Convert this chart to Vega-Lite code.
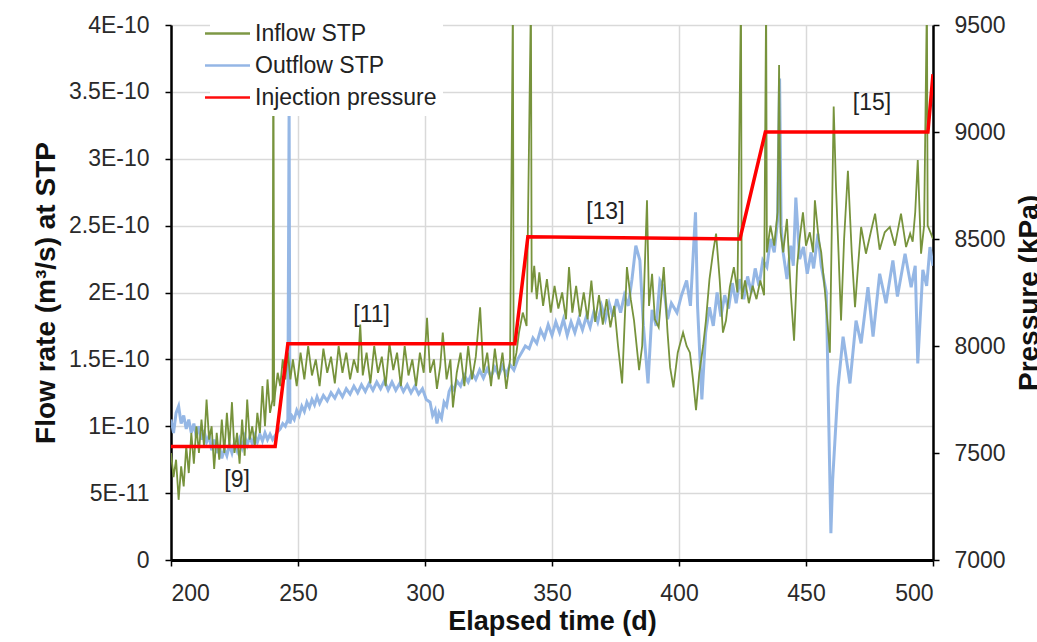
{
  "$schema": "https://vega.github.io/schema/vega-lite/v6.json",
  "width": 762,
  "height": 535,
  "autosize": {"type": "none"},
  "padding": {"left": 171, "top": 25, "right": 104, "bottom": 82},
  "background": "white",
  "config": {
    "view": {"stroke": null},
    "font": "Liberation Sans",
    "axis": {
      "domainColor": "#000",
      "domainWidth": 2.5,
      "tickColor": "#000",
      "tickWidth": 1.5,
      "tickSize": 6,
      "labelFont": "Liberation Sans",
      "labelFontSize": 23,
      "labelColor": "#2a2a2a",
      "titleFont": "Liberation Sans",
      "titleFontSize": 28,
      "titleFontWeight": "bold",
      "titleColor": "#111",
      "gridColor": "#d9d9d9",
      "gridWidth": 1.5
    }
  },
  "datasets": {
    "inflow": [
      {"t":200,"v":0.80e-10,"series":"Inflow STP"},{"t":201,"v":0.62e-10,"series":"Inflow STP"},{"t":202,"v":0.75e-10,"series":"Inflow STP"},{"t":203,"v":0.45e-10,"series":"Inflow STP"},{"t":204,"v":0.70e-10,"series":"Inflow STP"},{"t":205,"v":0.55e-10,"series":"Inflow STP"},{"t":206,"v":0.85e-10,"series":"Inflow STP"},{"t":207,"v":0.65e-10,"series":"Inflow STP"},{"t":208,"v":0.95e-10,"series":"Inflow STP"},{"t":209,"v":0.72e-10,"series":"Inflow STP"},
      {"t":210,"v":1.00e-10,"series":"Inflow STP"},{"t":211,"v":0.80e-10,"series":"Inflow STP"},{"t":212,"v":1.05e-10,"series":"Inflow STP"},{"t":213,"v":0.85e-10,"series":"Inflow STP"},{"t":214,"v":1.20e-10,"series":"Inflow STP"},{"t":215,"v":0.90e-10,"series":"Inflow STP"},{"t":216,"v":1.00e-10,"series":"Inflow STP"},{"t":217,"v":0.68e-10,"series":"Inflow STP"},{"t":218,"v":0.95e-10,"series":"Inflow STP"},{"t":219,"v":0.75e-10,"series":"Inflow STP"},
      {"t":220,"v":1.05e-10,"series":"Inflow STP"},{"t":221,"v":0.80e-10,"series":"Inflow STP"},{"t":222,"v":1.10e-10,"series":"Inflow STP"},{"t":223,"v":0.85e-10,"series":"Inflow STP"},{"t":224,"v":1.18e-10,"series":"Inflow STP"},{"t":225,"v":0.80e-10,"series":"Inflow STP"},{"t":226,"v":0.95e-10,"series":"Inflow STP"},{"t":227,"v":0.72e-10,"series":"Inflow STP"},{"t":228,"v":1.05e-10,"series":"Inflow STP"},{"t":229,"v":0.78e-10,"series":"Inflow STP"},
      {"t":230,"v":1.20e-10,"series":"Inflow STP"},{"t":231,"v":0.90e-10,"series":"Inflow STP"},{"t":232,"v":1.00e-10,"series":"Inflow STP"},{"t":233,"v":0.85e-10,"series":"Inflow STP"},{"t":234,"v":1.10e-10,"series":"Inflow STP"},{"t":235,"v":0.95e-10,"series":"Inflow STP"},{"t":236,"v":1.30e-10,"series":"Inflow STP"},{"t":237,"v":1.00e-10,"series":"Inflow STP"},{"t":238,"v":1.35e-10,"series":"Inflow STP"},{"t":239,"v":1.10e-10,"series":"Inflow STP"},
      {"t":240,"v":1.20e-10,"series":"Inflow STP"},{"t":240.3,"v":4.2e-10,"series":"Inflow STP"},{"t":240.6,"v":1.15e-10,"series":"Inflow STP"},{"t":241,"v":1.25e-10,"series":"Inflow STP"},{"t":242,"v":1.40e-10,"series":"Inflow STP"},{"t":243,"v":1.30e-10,"series":"Inflow STP"},{"t":244,"v":1.50e-10,"series":"Inflow STP"},{"t":245,"v":1.35e-10,"series":"Inflow STP"},{"t":246,"v":1.55e-10,"series":"Inflow STP"},{"t":247,"v":1.35e-10,"series":"Inflow STP"},
      {"t":248,"v":1.50e-10,"series":"Inflow STP"},{"t":249.5,"v":1.30e-10,"series":"Inflow STP"},{"t":251,"v":1.55e-10,"series":"Inflow STP"},{"t":252.5,"v":1.35e-10,"series":"Inflow STP"},{"t":254,"v":1.60e-10,"series":"Inflow STP"},{"t":255.5,"v":1.38e-10,"series":"Inflow STP"},{"t":257,"v":1.50e-10,"series":"Inflow STP"},{"t":258.5,"v":1.30e-10,"series":"Inflow STP"},{"t":260,"v":1.58e-10,"series":"Inflow STP"},{"t":261.5,"v":1.40e-10,"series":"Inflow STP"},
      {"t":263,"v":1.52e-10,"series":"Inflow STP"},{"t":264.5,"v":1.32e-10,"series":"Inflow STP"},{"t":266,"v":1.60e-10,"series":"Inflow STP"},{"t":267.5,"v":1.40e-10,"series":"Inflow STP"},{"t":269,"v":1.55e-10,"series":"Inflow STP"},{"t":270.5,"v":1.35e-10,"series":"Inflow STP"},{"t":272,"v":1.50e-10,"series":"Inflow STP"},{"t":273.5,"v":1.40e-10,"series":"Inflow STP"},{"t":274.5,"v":1.76e-10,"series":"Inflow STP"},{"t":275.5,"v":1.38e-10,"series":"Inflow STP"},
      {"t":277,"v":1.55e-10,"series":"Inflow STP"},{"t":278.5,"v":1.32e-10,"series":"Inflow STP"},{"t":280,"v":1.60e-10,"series":"Inflow STP"},{"t":281.5,"v":1.40e-10,"series":"Inflow STP"},{"t":283,"v":1.52e-10,"series":"Inflow STP"},{"t":284.5,"v":1.30e-10,"series":"Inflow STP"},{"t":286,"v":1.62e-10,"series":"Inflow STP"},{"t":287.5,"v":1.42e-10,"series":"Inflow STP"},{"t":289,"v":1.55e-10,"series":"Inflow STP"},{"t":290.5,"v":1.30e-10,"series":"Inflow STP"},
      {"t":292,"v":1.60e-10,"series":"Inflow STP"},{"t":293.5,"v":1.38e-10,"series":"Inflow STP"},{"t":295,"v":1.50e-10,"series":"Inflow STP"},{"t":296.5,"v":1.30e-10,"series":"Inflow STP"},{"t":298,"v":1.55e-10,"series":"Inflow STP"},{"t":299.5,"v":1.40e-10,"series":"Inflow STP"},{"t":300.8,"v":1.81e-10,"series":"Inflow STP"},{"t":302,"v":1.40e-10,"series":"Inflow STP"},{"t":303.5,"v":1.50e-10,"series":"Inflow STP"},{"t":304.7,"v":1.28e-10,"series":"Inflow STP"},
      {"t":306,"v":1.45e-10,"series":"Inflow STP"},{"t":307,"v":1.70e-10,"series":"Inflow STP"},{"t":308.5,"v":1.35e-10,"series":"Inflow STP"},{"t":310,"v":1.50e-10,"series":"Inflow STP"},{"t":311,"v":1.14e-10,"series":"Inflow STP"},{"t":312.5,"v":1.40e-10,"series":"Inflow STP"},{"t":314,"v":1.55e-10,"series":"Inflow STP"},{"t":315.5,"v":1.30e-10,"series":"Inflow STP"},{"t":317,"v":1.60e-10,"series":"Inflow STP"},{"t":318.5,"v":1.35e-10,"series":"Inflow STP"},
      {"t":320,"v":1.52e-10,"series":"Inflow STP"},{"t":321.7,"v":1.89e-10,"series":"Inflow STP"},{"t":323,"v":1.40e-10,"series":"Inflow STP"},{"t":324.5,"v":1.55e-10,"series":"Inflow STP"},{"t":326,"v":1.30e-10,"series":"Inflow STP"},{"t":327.5,"v":1.58e-10,"series":"Inflow STP"},{"t":329,"v":1.35e-10,"series":"Inflow STP"},{"t":330.5,"v":1.55e-10,"series":"Inflow STP"},{"t":332,"v":1.28e-10,"series":"Inflow STP"},{"t":333.5,"v":1.50e-10,"series":"Inflow STP"},
      {"t":334.6,"v":4.2e-10,"series":"Inflow STP"},{"t":334.9,"v":1.45e-10,"series":"Inflow STP"},{"t":336,"v":1.55e-10,"series":"Inflow STP"},{"t":337,"v":1.70e-10,"series":"Inflow STP"},{"t":338.5,"v":1.85e-10,"series":"Inflow STP"},{"t":340,"v":1.75e-10,"series":"Inflow STP"},{"t":341.7,"v":4.2e-10,"series":"Inflow STP"},{"t":342,"v":2.00e-10,"series":"Inflow STP"},{"t":343,"v":2.20e-10,"series":"Inflow STP"},{"t":344,"v":1.95e-10,"series":"Inflow STP"},
      {"t":345,"v":2.15e-10,"series":"Inflow STP"},{"t":346.5,"v":1.90e-10,"series":"Inflow STP"},{"t":348,"v":2.10e-10,"series":"Inflow STP"},{"t":349.5,"v":1.85e-10,"series":"Inflow STP"},{"t":351,"v":2.05e-10,"series":"Inflow STP"},{"t":352.5,"v":1.88e-10,"series":"Inflow STP"},{"t":354,"v":2.00e-10,"series":"Inflow STP"},{"t":355.5,"v":1.80e-10,"series":"Inflow STP"},{"t":356.7,"v":2.19e-10,"series":"Inflow STP"},{"t":358,"v":1.85e-10,"series":"Inflow STP"},
      {"t":359.5,"v":2.05e-10,"series":"Inflow STP"},{"t":361,"v":1.82e-10,"series":"Inflow STP"},{"t":362.5,"v":2.00e-10,"series":"Inflow STP"},{"t":364,"v":1.80e-10,"series":"Inflow STP"},{"t":365.5,"v":2.09e-10,"series":"Inflow STP"},{"t":367,"v":1.78e-10,"series":"Inflow STP"},{"t":368.5,"v":1.98e-10,"series":"Inflow STP"},{"t":370,"v":1.76e-10,"series":"Inflow STP"},{"t":371.5,"v":1.95e-10,"series":"Inflow STP"},{"t":373,"v":1.74e-10,"series":"Inflow STP"},
      {"t":374.5,"v":1.90e-10,"series":"Inflow STP"},{"t":376,"v":1.60e-10,"series":"Inflow STP"},{"t":377.6,"v":1.32e-10,"series":"Inflow STP"},{"t":379.5,"v":2.19e-10,"series":"Inflow STP"},{"t":381,"v":1.95e-10,"series":"Inflow STP"},{"t":382.3,"v":1.79e-10,"series":"Inflow STP"},{"t":384.3,"v":1.42e-10,"series":"Inflow STP"},{"t":385.5,"v":1.60e-10,"series":"Inflow STP"},{"t":387.4,"v":2.69e-10,"series":"Inflow STP"},{"t":388.2,"v":1.90e-10,"series":"Inflow STP"},
      {"t":389.4,"v":2.14e-10,"series":"Inflow STP"},{"t":390.5,"v":1.80e-10,"series":"Inflow STP"},{"t":392,"v":1.74e-10,"series":"Inflow STP"},{"t":394,"v":2.19e-10,"series":"Inflow STP"},{"t":395.5,"v":1.70e-10,"series":"Inflow STP"},{"t":396.5,"v":1.44e-10,"series":"Inflow STP"},{"t":397.8,"v":1.29e-10,"series":"Inflow STP"},{"t":399.5,"v":1.55e-10,"series":"Inflow STP"},{"t":401.6,"v":1.70e-10,"series":"Inflow STP"},{"t":403,"v":1.60e-10,"series":"Inflow STP"},
      {"t":404.3,"v":1.55e-10,"series":"Inflow STP"},{"t":405.5,"v":1.35e-10,"series":"Inflow STP"},{"t":406.7,"v":1.12e-10,"series":"Inflow STP"},{"t":408,"v":1.40e-10,"series":"Inflow STP"},{"t":409.5,"v":1.60e-10,"series":"Inflow STP"},{"t":410.6,"v":1.79e-10,"series":"Inflow STP"},{"t":412,"v":2.10e-10,"series":"Inflow STP"},{"t":413.4,"v":2.30e-10,"series":"Inflow STP"},{"t":414.6,"v":2.44e-10,"series":"Inflow STP"},{"t":416,"v":2.10e-10,"series":"Inflow STP"},
      {"t":417.3,"v":1.70e-10,"series":"Inflow STP"},{"t":418.5,"v":1.79e-10,"series":"Inflow STP"},{"t":420,"v":2.04e-10,"series":"Inflow STP"},{"t":421.6,"v":2.19e-10,"series":"Inflow STP"},{"t":423,"v":2.00e-10,"series":"Inflow STP"},{"t":424.4,"v":4.2e-10,"series":"Inflow STP"},{"t":424.7,"v":1.95e-10,"series":"Inflow STP"},{"t":426,"v":2.09e-10,"series":"Inflow STP"},{"t":427.5,"v":1.92e-10,"series":"Inflow STP"},{"t":429,"v":2.05e-10,"series":"Inflow STP"},
      {"t":430.5,"v":1.95e-10,"series":"Inflow STP"},{"t":432,"v":2.09e-10,"series":"Inflow STP"},{"t":433.5,"v":1.98e-10,"series":"Inflow STP"},{"t":434.3,"v":4.2e-10,"series":"Inflow STP"},{"t":434.6,"v":2.30e-10,"series":"Inflow STP"},{"t":436,"v":2.50e-10,"series":"Inflow STP"},{"t":437.5,"v":2.35e-10,"series":"Inflow STP"},{"t":438.8,"v":2.60e-10,"series":"Inflow STP"},{"t":439.4,"v":3.70e-10,"series":"Inflow STP"},{"t":440,"v":2.45e-10,"series":"Inflow STP"},
      {"t":441,"v":2.30e-10,"series":"Inflow STP"},{"t":442.5,"v":2.55e-10,"series":"Inflow STP"},{"t":444,"v":2.00e-10,"series":"Inflow STP"},{"t":445.3,"v":1.64e-10,"series":"Inflow STP"},{"t":446.5,"v":2.20e-10,"series":"Inflow STP"},{"t":447.5,"v":2.40e-10,"series":"Inflow STP"},{"t":448.8,"v":2.60e-10,"series":"Inflow STP"},{"t":450,"v":2.35e-10,"series":"Inflow STP"},{"t":451.5,"v":2.45e-10,"series":"Inflow STP"},{"t":452.8,"v":2.30e-10,"series":"Inflow STP"},
      {"t":453.5,"v":2.69e-10,"series":"Inflow STP"},{"t":455,"v":2.40e-10,"series":"Inflow STP"},{"t":456,"v":2.30e-10,"series":"Inflow STP"},{"t":457.5,"v":2.00e-10,"series":"Inflow STP"},{"t":459.4,"v":1.55e-10,"series":"Inflow STP"},{"t":460.9,"v":3.39e-10,"series":"Inflow STP"},{"t":461.8,"v":2.79e-10,"series":"Inflow STP"},{"t":462.8,"v":2.30e-10,"series":"Inflow STP"},{"t":463.8,"v":1.79e-10,"series":"Inflow STP"},{"t":465,"v":2.40e-10,"series":"Inflow STP"},
      {"t":466.5,"v":2.91e-10,"series":"Inflow STP"},{"t":468,"v":2.30e-10,"series":"Inflow STP"},{"t":469.3,"v":1.89e-10,"series":"Inflow STP"},{"t":470.5,"v":2.20e-10,"series":"Inflow STP"},{"t":471.7,"v":2.49e-10,"series":"Inflow STP"},{"t":473.6,"v":2.29e-10,"series":"Inflow STP"},{"t":475.5,"v":2.45e-10,"series":"Inflow STP"},{"t":477.2,"v":2.59e-10,"series":"Inflow STP"},{"t":479,"v":2.32e-10,"series":"Inflow STP"},{"t":481,"v":2.45e-10,"series":"Inflow STP"},
      {"t":483,"v":2.49e-10,"series":"Inflow STP"},{"t":485,"v":2.35e-10,"series":"Inflow STP"},{"t":487.4,"v":2.59e-10,"series":"Inflow STP"},{"t":489.4,"v":2.34e-10,"series":"Inflow STP"},{"t":491,"v":2.44e-10,"series":"Inflow STP"},{"t":492,"v":2.38e-10,"series":"Inflow STP"},{"t":493,"v":2.60e-10,"series":"Inflow STP"},{"t":494,"v":2.99e-10,"series":"Inflow STP"},{"t":495.3,"v":2.29e-10,"series":"Inflow STP"},{"t":496.5,"v":2.50e-10,"series":"Inflow STP"},
      {"t":497.6,"v":4.2e-10,"series":"Inflow STP"},{"t":497.9,"v":2.50e-10,"series":"Inflow STP"},{"t":499.2,"v":2.44e-10,"series":"Inflow STP"},{"t":500,"v":2.40e-10,"series":"Inflow STP"}
    ],
    "outflow": [
      {"t":200,"v":1.05e-10,"series":"Outflow STP"},{"t":201,"v":0.95e-10,"series":"Outflow STP"},{"t":202,"v":1.10e-10,"series":"Outflow STP"},{"t":203,"v":1.15e-10,"series":"Outflow STP"},{"t":204,"v":1.02e-10,"series":"Outflow STP"},{"t":205,"v":1.08e-10,"series":"Outflow STP"},{"t":206,"v":0.98e-10,"series":"Outflow STP"},{"t":207,"v":1.05e-10,"series":"Outflow STP"},{"t":208,"v":0.95e-10,"series":"Outflow STP"},{"t":209,"v":1.02e-10,"series":"Outflow STP"},
      {"t":210,"v":0.92e-10,"series":"Outflow STP"},{"t":211,"v":1.00e-10,"series":"Outflow STP"},{"t":212,"v":0.90e-10,"series":"Outflow STP"},{"t":213,"v":0.97e-10,"series":"Outflow STP"},{"t":214,"v":0.88e-10,"series":"Outflow STP"},{"t":215,"v":0.93e-10,"series":"Outflow STP"},{"t":216,"v":0.82e-10,"series":"Outflow STP"},{"t":217,"v":0.90e-10,"series":"Outflow STP"},{"t":218,"v":0.80e-10,"series":"Outflow STP"},{"t":219,"v":0.86e-10,"series":"Outflow STP"},
      {"t":220,"v":0.76e-10,"series":"Outflow STP"},{"t":221,"v":0.83e-10,"series":"Outflow STP"},{"t":222,"v":0.78e-10,"series":"Outflow STP"},{"t":223,"v":0.86e-10,"series":"Outflow STP"},{"t":224,"v":0.80e-10,"series":"Outflow STP"},{"t":225,"v":0.88e-10,"series":"Outflow STP"},{"t":226,"v":0.82e-10,"series":"Outflow STP"},{"t":227,"v":0.90e-10,"series":"Outflow STP"},{"t":228,"v":0.84e-10,"series":"Outflow STP"},{"t":229,"v":0.92e-10,"series":"Outflow STP"},
      {"t":230,"v":0.86e-10,"series":"Outflow STP"},{"t":231,"v":0.92e-10,"series":"Outflow STP"},{"t":232,"v":0.87e-10,"series":"Outflow STP"},{"t":233,"v":0.93e-10,"series":"Outflow STP"},{"t":234,"v":0.88e-10,"series":"Outflow STP"},{"t":235,"v":0.94e-10,"series":"Outflow STP"},{"t":236,"v":0.89e-10,"series":"Outflow STP"},{"t":237,"v":0.95e-10,"series":"Outflow STP"},{"t":238,"v":0.90e-10,"series":"Outflow STP"},{"t":239,"v":0.94e-10,"series":"Outflow STP"},
      {"t":240,"v":0.90e-10,"series":"Outflow STP"},{"t":241,"v":0.93e-10,"series":"Outflow STP"},{"t":242,"v":0.96e-10,"series":"Outflow STP"},{"t":243,"v":0.98e-10,"series":"Outflow STP"},{"t":244,"v":1.02e-10,"series":"Outflow STP"},{"t":245,"v":1.00e-10,"series":"Outflow STP"},{"t":246,"v":1.05e-10,"series":"Outflow STP"},{"t":246.5,"v":3.40e-10,"series":"Outflow STP"},{"t":246.8,"v":1.02e-10,"series":"Outflow STP"},{"t":247.5,"v":1.08e-10,"series":"Outflow STP"},
      {"t":248.5,"v":1.05e-10,"series":"Outflow STP"},{"t":249.5,"v":1.12e-10,"series":"Outflow STP"},{"t":250.5,"v":1.08e-10,"series":"Outflow STP"},{"t":251.5,"v":1.15e-10,"series":"Outflow STP"},{"t":252.5,"v":1.11e-10,"series":"Outflow STP"},{"t":253.5,"v":1.18e-10,"series":"Outflow STP"},{"t":254.5,"v":1.14e-10,"series":"Outflow STP"},{"t":255.5,"v":1.20e-10,"series":"Outflow STP"},{"t":256.5,"v":1.16e-10,"series":"Outflow STP"},{"t":257.5,"v":1.22e-10,"series":"Outflow STP"},
      {"t":258.5,"v":1.17e-10,"series":"Outflow STP"},{"t":260,"v":1.23e-10,"series":"Outflow STP"},{"t":261.5,"v":1.19e-10,"series":"Outflow STP"},{"t":263,"v":1.25e-10,"series":"Outflow STP"},{"t":264.5,"v":1.21e-10,"series":"Outflow STP"},{"t":266,"v":1.27e-10,"series":"Outflow STP"},{"t":267.5,"v":1.22e-10,"series":"Outflow STP"},{"t":269,"v":1.28e-10,"series":"Outflow STP"},{"t":270.5,"v":1.24e-10,"series":"Outflow STP"},{"t":272,"v":1.30e-10,"series":"Outflow STP"},
      {"t":273.5,"v":1.25e-10,"series":"Outflow STP"},{"t":275,"v":1.31e-10,"series":"Outflow STP"},{"t":276.5,"v":1.26e-10,"series":"Outflow STP"},{"t":278,"v":1.32e-10,"series":"Outflow STP"},{"t":279.5,"v":1.27e-10,"series":"Outflow STP"},{"t":281,"v":1.33e-10,"series":"Outflow STP"},{"t":282.5,"v":1.28e-10,"series":"Outflow STP"},{"t":284,"v":1.34e-10,"series":"Outflow STP"},{"t":285.5,"v":1.27e-10,"series":"Outflow STP"},{"t":287,"v":1.33e-10,"series":"Outflow STP"},
      {"t":288.5,"v":1.27e-10,"series":"Outflow STP"},{"t":290,"v":1.32e-10,"series":"Outflow STP"},{"t":291.5,"v":1.26e-10,"series":"Outflow STP"},{"t":293,"v":1.31e-10,"series":"Outflow STP"},{"t":294.5,"v":1.25e-10,"series":"Outflow STP"},{"t":296,"v":1.30e-10,"series":"Outflow STP"},{"t":297.5,"v":1.24e-10,"series":"Outflow STP"},{"t":299,"v":1.28e-10,"series":"Outflow STP"},{"t":300.5,"v":1.20e-10,"series":"Outflow STP"},{"t":302,"v":1.18e-10,"series":"Outflow STP"},
      {"t":303,"v":1.08e-10,"series":"Outflow STP"},{"t":304,"v":1.12e-10,"series":"Outflow STP"},{"t":304.7,"v":1.02e-10,"series":"Outflow STP"},{"t":305.5,"v":1.10e-10,"series":"Outflow STP"},{"t":306.5,"v":1.06e-10,"series":"Outflow STP"},{"t":307.5,"v":1.18e-10,"series":"Outflow STP"},{"t":308.5,"v":1.15e-10,"series":"Outflow STP"},{"t":309.5,"v":1.26e-10,"series":"Outflow STP"},{"t":310.5,"v":1.30e-10,"series":"Outflow STP"},{"t":311.5,"v":1.27e-10,"series":"Outflow STP"},
      {"t":312.5,"v":1.34e-10,"series":"Outflow STP"},{"t":314,"v":1.30e-10,"series":"Outflow STP"},{"t":315.5,"v":1.38e-10,"series":"Outflow STP"},{"t":317,"v":1.33e-10,"series":"Outflow STP"},{"t":318.5,"v":1.40e-10,"series":"Outflow STP"},{"t":320,"v":1.35e-10,"series":"Outflow STP"},{"t":321.5,"v":1.42e-10,"series":"Outflow STP"},{"t":323,"v":1.36e-10,"series":"Outflow STP"},{"t":324.5,"v":1.43e-10,"series":"Outflow STP"},{"t":326,"v":1.37e-10,"series":"Outflow STP"},
      {"t":327.5,"v":1.44e-10,"series":"Outflow STP"},{"t":329,"v":1.38e-10,"series":"Outflow STP"},{"t":330.5,"v":1.45e-10,"series":"Outflow STP"},{"t":332,"v":1.39e-10,"series":"Outflow STP"},{"t":333.5,"v":1.46e-10,"series":"Outflow STP"},{"t":335,"v":1.42e-10,"series":"Outflow STP"},{"t":336.5,"v":1.50e-10,"series":"Outflow STP"},{"t":338,"v":1.55e-10,"series":"Outflow STP"},{"t":339.5,"v":1.60e-10,"series":"Outflow STP"},{"t":341,"v":1.58e-10,"series":"Outflow STP"},
      {"t":342.5,"v":1.66e-10,"series":"Outflow STP"},{"t":344,"v":1.62e-10,"series":"Outflow STP"},{"t":345.5,"v":1.72e-10,"series":"Outflow STP"},{"t":347,"v":1.66e-10,"series":"Outflow STP"},{"t":348.5,"v":1.76e-10,"series":"Outflow STP"},{"t":350,"v":1.68e-10,"series":"Outflow STP"},{"t":351.5,"v":1.78e-10,"series":"Outflow STP"},{"t":353,"v":1.70e-10,"series":"Outflow STP"},{"t":354.5,"v":1.80e-10,"series":"Outflow STP"},{"t":356,"v":1.68e-10,"series":"Outflow STP"},
      {"t":357.5,"v":1.78e-10,"series":"Outflow STP"},{"t":359,"v":1.70e-10,"series":"Outflow STP"},{"t":360.5,"v":1.80e-10,"series":"Outflow STP"},{"t":362,"v":1.72e-10,"series":"Outflow STP"},{"t":363.5,"v":1.82e-10,"series":"Outflow STP"},{"t":365,"v":1.74e-10,"series":"Outflow STP"},{"t":366.5,"v":1.86e-10,"series":"Outflow STP"},{"t":368,"v":1.78e-10,"series":"Outflow STP"},{"t":369.5,"v":1.90e-10,"series":"Outflow STP"},{"t":371,"v":1.80e-10,"series":"Outflow STP"},
      {"t":372.5,"v":1.92e-10,"series":"Outflow STP"},{"t":374,"v":1.82e-10,"series":"Outflow STP"},{"t":375.5,"v":1.95e-10,"series":"Outflow STP"},{"t":377,"v":1.85e-10,"series":"Outflow STP"},{"t":378.5,"v":1.98e-10,"series":"Outflow STP"},{"t":380,"v":1.90e-10,"series":"Outflow STP"},{"t":381.5,"v":2.10e-10,"series":"Outflow STP"},{"t":383,"v":2.35e-10,"series":"Outflow STP"},{"t":384.6,"v":2.24e-10,"series":"Outflow STP"},{"t":386,"v":1.75e-10,"series":"Outflow STP"},
      {"t":387.8,"v":1.32e-10,"series":"Outflow STP"},{"t":389.4,"v":1.87e-10,"series":"Outflow STP"},{"t":391,"v":1.75e-10,"series":"Outflow STP"},{"t":392.5,"v":2.09e-10,"series":"Outflow STP"},{"t":394,"v":2.04e-10,"series":"Outflow STP"},{"t":395.5,"v":1.80e-10,"series":"Outflow STP"},{"t":397,"v":1.92e-10,"series":"Outflow STP"},{"t":399.2,"v":1.85e-10,"series":"Outflow STP"},{"t":401,"v":1.98e-10,"series":"Outflow STP"},{"t":403,"v":2.09e-10,"series":"Outflow STP"},
      {"t":404.5,"v":1.90e-10,"series":"Outflow STP"},{"t":406.5,"v":2.60e-10,"series":"Outflow STP"},{"t":407.3,"v":1.90e-10,"series":"Outflow STP"},{"t":409,"v":1.20e-10,"series":"Outflow STP"},{"t":410.5,"v":1.70e-10,"series":"Outflow STP"},{"t":412,"v":1.89e-10,"series":"Outflow STP"},{"t":413.5,"v":1.75e-10,"series":"Outflow STP"},{"t":415,"v":2.00e-10,"series":"Outflow STP"},{"t":416.5,"v":1.82e-10,"series":"Outflow STP"},{"t":418,"v":1.98e-10,"series":"Outflow STP"},
      {"t":419.5,"v":1.88e-10,"series":"Outflow STP"},{"t":421,"v":2.07e-10,"series":"Outflow STP"},{"t":422.5,"v":1.92e-10,"series":"Outflow STP"},{"t":424,"v":2.10e-10,"series":"Outflow STP"},{"t":425.5,"v":1.95e-10,"series":"Outflow STP"},{"t":427,"v":2.12e-10,"series":"Outflow STP"},{"t":428.5,"v":2.00e-10,"series":"Outflow STP"},{"t":430,"v":2.18e-10,"series":"Outflow STP"},{"t":431.5,"v":2.05e-10,"series":"Outflow STP"},{"t":433,"v":2.24e-10,"series":"Outflow STP"},
      {"t":434.6,"v":2.19e-10,"series":"Outflow STP"},{"t":436,"v":2.40e-10,"series":"Outflow STP"},{"t":437.5,"v":2.30e-10,"series":"Outflow STP"},{"t":438.8,"v":2.54e-10,"series":"Outflow STP"},{"t":439.6,"v":3.60e-10,"series":"Outflow STP"},{"t":440.2,"v":2.50e-10,"series":"Outflow STP"},{"t":441,"v":2.30e-10,"series":"Outflow STP"},{"t":442.5,"v":2.10e-10,"series":"Outflow STP"},{"t":444,"v":2.35e-10,"series":"Outflow STP"},{"t":445,"v":2.20e-10,"series":"Outflow STP"},
      {"t":446,"v":2.71e-10,"series":"Outflow STP"},{"t":447.5,"v":2.25e-10,"series":"Outflow STP"},{"t":449,"v":2.34e-10,"series":"Outflow STP"},{"t":450.5,"v":2.14e-10,"series":"Outflow STP"},{"t":452,"v":2.30e-10,"series":"Outflow STP"},{"t":453,"v":2.18e-10,"series":"Outflow STP"},{"t":454.7,"v":2.44e-10,"series":"Outflow STP"},{"t":456,"v":2.20e-10,"series":"Outflow STP"},{"t":458,"v":2.00e-10,"series":"Outflow STP"},{"t":459.8,"v":0.20e-10,"series":"Outflow STP"},
      {"t":460.5,"v":0.60e-10,"series":"Outflow STP"},{"t":462.6,"v":1.29e-10,"series":"Outflow STP"},{"t":464.6,"v":1.67e-10,"series":"Outflow STP"},{"t":467.3,"v":1.32e-10,"series":"Outflow STP"},{"t":469.7,"v":1.79e-10,"series":"Outflow STP"},{"t":471.7,"v":1.62e-10,"series":"Outflow STP"},{"t":474.4,"v":2.04e-10,"series":"Outflow STP"},{"t":476.4,"v":1.67e-10,"series":"Outflow STP"},{"t":479,"v":2.14e-10,"series":"Outflow STP"},{"t":481.5,"v":1.92e-10,"series":"Outflow STP"},
      {"t":484.2,"v":2.24e-10,"series":"Outflow STP"},{"t":486,"v":1.97e-10,"series":"Outflow STP"},{"t":489,"v":2.29e-10,"series":"Outflow STP"},{"t":491.4,"v":2.04e-10,"series":"Outflow STP"},{"t":493,"v":2.20e-10,"series":"Outflow STP"},{"t":494,"v":1.47e-10,"series":"Outflow STP"},{"t":496,"v":2.17e-10,"series":"Outflow STP"},{"t":497.5,"v":2.05e-10,"series":"Outflow STP"},{"t":498.8,"v":2.34e-10,"series":"Outflow STP"},{"t":500,"v":2.20e-10,"series":"Outflow STP"}
    ],
    "pressure": [
      {"t":200,"p":7530,"series":"Injection pressure"},
      {"t":241,"p":7530,"series":"Injection pressure"},
      {"t":246,"p":8010,"series":"Injection pressure"},
      {"t":335.4,"p":8010,"series":"Injection pressure"},
      {"t":340.5,"p":8510,"series":"Injection pressure"},
      {"t":424,"p":8500,"series":"Injection pressure"},
      {"t":434,"p":9000,"series":"Injection pressure"},
      {"t":498,"p":9000,"series":"Injection pressure"},
      {"t":500,"p":9270,"series":"Injection pressure"}
    ],
    "notes": [
      {"t":226,"v":0.60e-10,"label":"[9]"},
      {"t":279,"v":1.83e-10,"label":"[11]"},
      {"t":371,"v":2.60e-10,"label":"[13]"},
      {"t":476,"v":3.42e-10,"label":"[15]"}
    ]
  },
  "encoding": {
    "x": {
      "field": "t",
      "type": "quantitative",
      "scale": {"domain": [200, 500], "nice": false},
      "axis": {
        "title": "Elapsed time (d)",
        "titleFontSize": 27,
        "values": [200, 250, 300, 350, 400, 450, 500],
        "grid": true,
        "domainWidth": 3,
        "labelPadding": 16,
        "titlePadding": 3
      }
    }
  },
  "layer": [
    {
      "layer": [
        {
          "data": {"name": "outflow"},
          "mark": {"type": "line", "strokeWidth": 3, "clip": true, "opacity": 0.95},
          "encoding": {
            "y": {
              "field": "v",
              "type": "quantitative",
              "scale": {"domain": [0, 4e-10], "nice": false},
              "axis": {
                "title": "Flow rate (m³/s) at STP",
                "values": [0, 5e-11, 1e-10, 1.5e-10, 2e-10, 2.5e-10, 3e-10, 3.5e-10, 4e-10],
                "labelExpr": "round(datum.value*1e11) == 0 ? '0' : round(datum.value*1e11) == 5 ? '5E-11' : (round(datum.value*1e11)/10) + 'E-10'",
                "grid": true,
                "labelPadding": 16,
                "titlePadding": 8
              }
            },
            "color": {
              "field": "series",
              "type": "nominal",
              "scale": {
                "domain": ["Inflow STP", "Outflow STP", "Injection pressure"],
                "range": ["#77933c", "#8fb3e4", "#ff0000"]
              },
              "legend": {
                "title": null,
                "orient": "none",
                "legendX": 39,
                "legendY": -9,
                "symbolType": "M-2.5,0H2.5",
                "symbolSize": 324,
                "symbolStrokeWidth": 2.5,
                "labelFont": "Liberation Sans",
                "labelFontSize": 23,
                "labelColor": "#222",
                "labelLimit": 400,
                "labelOffset": 16,
                "rowPadding": 8,
                "padding": 6,
                "fillColor": "white"
              }
            }
          }
        },
        {
          "data": {"name": "inflow"},
          "mark": {"type": "line", "strokeWidth": 1.8, "clip": true},
          "encoding": {
            "y": {"field": "v", "type": "quantitative"},
            "color": {"field": "series", "type": "nominal"}
          }
        },
        {
          "data": {"name": "notes"},
          "mark": {"type": "text", "font": "Liberation Sans", "fontSize": 23, "color": "#222", "baseline": "middle", "align": "center"},
          "encoding": {
            "y": {"field": "v", "type": "quantitative"},
            "text": {"field": "label", "type": "nominal"}
          }
        }
      ]
    },
    {
      "data": {"name": "pressure"},
      "mark": {"type": "line", "strokeWidth": 3.5, "clip": true},
      "encoding": {
        "y": {
          "field": "p",
          "type": "quantitative",
          "scale": {"domain": [7000, 9500], "nice": false},
          "axis": {
            "orient": "right",
            "title": "Pressure (kPa)",
            "titleAngle": 270,
            "values": [7000, 7500, 8000, 8500, 9000, 9500],
            "format": "d",
            "grid": false,
            "labelPadding": 15,
            "titlePadding": 38
          }
        },
        "color": {"field": "series", "type": "nominal"}
      }
    }
  ],
  "resolve": {"scale": {"y": "independent"}}
}
